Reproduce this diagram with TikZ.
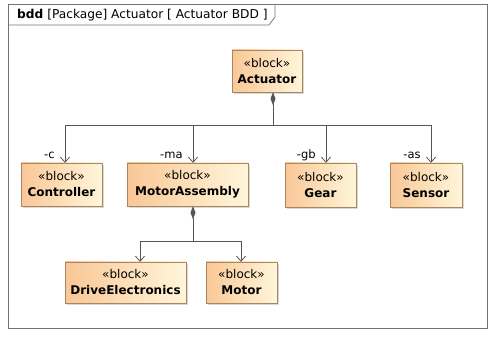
\documentclass[tikz,border=0pt]{standalone}
\usepackage{fontspec}
\setmainfont{DejaVu Sans}
\usetikzlibrary{arrows.meta,shadows}
\definecolor{blockleft}{HTML}{F9C796}
\definecolor{blockright}{HTML}{FFF6DA}
\definecolor{blockline}{HTML}{A98660}
\definecolor{wire}{HTML}{555555}
\begin{document}
\begin{tikzpicture}[x=1pt, y=-1pt,
      block/.style = {shape=rectangle, draw=blockline, left color=blockleft, right color=blockright,
        align=center, inner sep=0pt, font=\fontsize{12}{16}\selectfont,
        drop shadow={shadow xshift=2pt, shadow yshift=-2pt, fill=black, opacity=0.15}},
      comp/.style = {draw=wire, line width=0.8pt, {Diamond[length=13pt,width=5pt,fill=wire]}-},
      assoc/.style = {draw=wire, line width=0.8pt, -{Straight Barb[length=5pt,width=9pt]}},
      role/.style = {font=\fontsize{11.5}{13}\selectfont, anchor=base east, xshift=-10pt, yshift=4pt, inner sep=0pt}]
    \useasboundingbox (0,0) rectangle (491,339);
    % frame and its tab
    \draw[black!55, line width=0.8pt] (8,4) rectangle (487,328);
    \draw[black!55, line width=0.8pt] (8,25) -- (269,25) -- (275,17) -- (275,4);
    \node[anchor=base west, inner sep=0pt, font=\fontsize{12.2}{15}\selectfont] (title) at (17,19)
      {\textbf{bdd} [Package] Actuator [ Actuator BDD ]};
    % blocks
    \node[block, minimum width=70pt, minimum height=42pt] (act) at (267,71) {«block»\\\textbf{Actuator}};
    \node[block, minimum width=81pt, minimum height=43pt] (ctrl) at (61.5,184.5) {«block»\\\textbf{Controller}};
    \node[block, minimum width=121pt, minimum height=43pt] (ma) at (187.5,184.5) {«block»\\\textbf{MotorAssembly}};
    \node[block, minimum width=71pt, minimum height=44pt] (gear) at (320.5,185) {«block»\\\textbf{Gear}};
    \node[block, minimum width=72pt, minimum height=44pt] (sens) at (426,185) {«block»\\\textbf{Sensor}};
    \node[block, minimum width=121pt, minimum height=41pt] (de) at (125.5,282.5) {«block»\\\textbf{DriveElectronics}};
    \node[block, minimum width=71pt, minimum height=41pt] (mot) at (241.5,282.5) {«block»\\\textbf{Motor}};
    % composition
    \coordinate (top) at (273,125);
    \coordinate (low) at (193,241);
    \draw[comp] ([xshift=6pt]act.south) -- (top);
    \draw[assoc] (top) -| ([xshift=3.5pt]ctrl.north) node[role] {-c};
    \draw[assoc] (top) -| ([xshift=5.5pt]ma.north) node[role] {-ma};
    \draw[assoc] (top) -| ([xshift=5.5pt]gear.north) node[role] {-gb};
    \draw[assoc] (top) -| ([xshift=5pt]sens.north) node[role] {-as};
    \draw[comp] ([xshift=5.5pt]ma.south) -- (low);
    \draw[assoc] (low) -| ([xshift=14.5pt]de.north);
    \draw[assoc] (low) -| ([xshift=-0.5pt]mot.north);
\end{tikzpicture}
\end{document}
